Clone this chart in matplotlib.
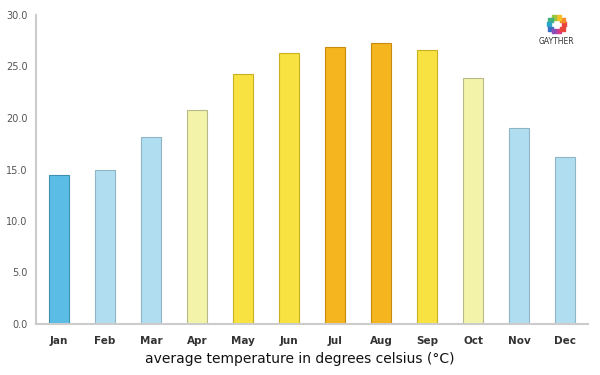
import numpy as np
import matplotlib.pyplot as plt

months = ['Jan', 'Feb', 'Mar', 'Apr', 'May', 'Jun', 'Jul', 'Aug', 'Sep', 'Oct', 'Nov', 'Dec']
temps = [14.5, 15.0, 18.2, 20.8, 24.3, 26.3, 26.9, 27.3, 26.6, 23.9, 19.0, 16.2]
colors = ['#5bbde6', '#b0def0', '#b0def0', '#f3f4aa', '#f8e241', '#f8e241',
          '#f5b51f', '#f5b51f', '#f8e241', '#f3f4aa', '#b0def0', '#b0def0']
edges = ['#3f8fb0', '#8fb4c4', '#8fb4c4', '#b8b88a', '#c8b020', '#c8b020',
         '#c88a10', '#c88a10', '#c8b020', '#b8b88a', '#8fb4c4', '#8fb4c4']

fig = plt.figure(figsize=(6, 3.75), dpi=100)
ax = fig.add_axes([0.06, 0.136, 0.92, 0.824])

x = np.arange(len(months))
ax.bar(x, temps, width=0.43, color=colors, edgecolor=edges, linewidth=0.8)

ax.set_xlim(-0.5, 11.5)
ax.set_ylim(0, 30)
ax.set_yticks(np.arange(0, 31, 5))
ax.set_yticklabels([f'{v:.1f}' for v in np.arange(0, 31, 5)], fontsize=7, color='#555555')
ax.set_xticks(x)
ax.set_xticklabels(months, fontsize=7.5, fontweight='bold', color='#333333')
ax.tick_params(axis='both', length=0, pad=9)
ax.tick_params(axis='y', pad=6)
for side in ['top', 'right']:
    ax.spines[side].set_visible(False)
for side in ['left', 'bottom']:
    ax.spines[side].set_color('#cccccc')
    ax.spines[side].set_linewidth(1.5)

fig.text(0.5, 0.033, 'average temperature in degrees celsius (°C)', ha='center',
         fontsize=10, color='#111111')

# logo
lax = fig.add_axes([0.905, 0.9, 0.045, 0.07])
ang = np.linspace(0, 2 * np.pi, 10, endpoint=False)
logo_cols = ['#e8453c', '#f28c28', '#f6c026', '#9bc53d', '#3fb27f',
             '#2ba6c8', '#3b6fc4', '#8a4fb8', '#d63a8a', '#e8453c']
lax.scatter(np.cos(ang), np.sin(ang), s=9, c=logo_cols, marker='s')
lax.set_xlim(-1.8, 1.8)
lax.set_ylim(-1.8, 1.8)
lax.axis('off')
fig.text(0.9275, 0.9, 'GAYTHER', ha='center', va='top', fontsize=5.5, color='#333333')

fig.savefig('out.png', dpi=100)
